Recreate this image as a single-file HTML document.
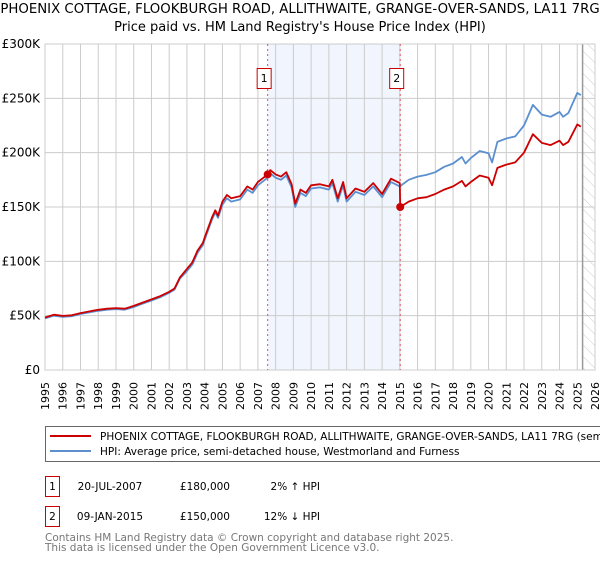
<!DOCTYPE html>
<html><head><meta charset="utf-8"><style>
body{margin:0;background:#fff;width:600px;height:560px;overflow:hidden;font-family:"Liberation Sans","DejaVu Sans",sans-serif}
svg text{font-family:"DejaVu Sans","Liberation Sans",sans-serif}
</style></head><body>
<svg id="chart" width="600" height="560" viewBox="0 0 600 560" xmlns="http://www.w3.org/2000/svg">
<defs><pattern id="hatch" patternUnits="userSpaceOnUse" width="8" height="8" patternTransform="rotate(-45)"><line x1="0" y1="0" x2="0" y2="8" stroke="#ccc" stroke-width="1"/></pattern></defs>
<text x="300" y="13" font-size="13.3" text-anchor="middle">PHOENIX COTTAGE, FLOOKBURGH ROAD, ALLITHWAITE, GRANGE-OVER-SANDS, LA11 7RG</text>
<text x="300" y="31" font-size="13" text-anchor="middle">Price paid vs. HM Land Registry's House Price Index (HPI)</text>
<g id="plot"></g>
<g>
<rect x="45.5" y="426.5" width="570" height="35" fill="none" stroke="#666"/>
<line x1="50" y1="436" x2="91" y2="436" stroke="#cc0000" stroke-width="2"/>
<text x="100" y="440" font-size="10.5">PHOENIX COTTAGE, FLOOKBURGH ROAD, ALLITHWAITE, GRANGE-OVER-SANDS, LA11 7RG (semi-detached house)</text>
<line x1="50" y1="451" x2="91" y2="451" stroke="#5b8fd0" stroke-width="2"/>
<text x="100" y="455" font-size="10.5">HPI: Average price, semi-detached house, Westmorland and Furness</text>
</g>
<g font-size="10.5">
<rect x="45.5" y="476.5" width="14" height="20" fill="none" stroke="#cc0000"/><text x="52.5" y="490" text-anchor="middle">1</text>
<text x="110" y="490" text-anchor="middle">20-JUL-2007</text><text x="230" y="490" text-anchor="end">£180,000</text><text x="320" y="490" text-anchor="end">2% ↑ HPI</text>
<rect x="45.5" y="506.5" width="14" height="20" fill="none" stroke="#cc0000"/><text x="52.5" y="520" text-anchor="middle">2</text>
<text x="110" y="520" text-anchor="middle">09-JAN-2015</text><text x="230" y="520" text-anchor="end">£150,000</text><text x="320" y="520" text-anchor="end">12% ↓ HPI</text>
</g>
<g font-size="10.5" fill="#777">
<text x="45" y="541">Contains HM Land Registry data © Crown copyright and database right 2025.</text>
<text x="45" y="551">This data is licensed under the Open Government Licence v3.0.</text>
</g>
</svg>
<script>
const hpiDates=[1995,1995.5,1996,1996.5,1997,1997.5,1998,1998.5,1999,1999.5,2000,2000.5,2001,2001.5,2002,2002.3,2002.6,2003,2003.3,2003.6,2003.9,2004,2004.4,2004.6,2004.75,2005,2005.25,2005.5,2006,2006.4,2006.7,2007,2007.55,2007.7,2008,2008.3,2008.6,2008.9,2009.1,2009.4,2009.7,2010,2010.5,2011,2011.2,2011.5,2011.8,2012,2012.5,2013,2013.5,2014,2014.5,2015,2015.5,2016,2016.5,2017,2017.5,2018,2018.5,2018.7,2019,2019.5,2020,2020.2,2020.5,2021,2021.5,2022,2022.5,2023,2023.5,2024,2024.2,2024.5,2025,2025.2];
const hpiValues=[47.5,50,49,49.5,51.5,53,54.5,55.5,56,55.5,58,61,64,67,71,74,84,91,97,108,115,120,138,145,140,152,158,155,157,166,163,170,177,181,177,175,179,168,150,163,160,167,168,166,172,155,170,155,164,161,169,159,173,169,175,178,179.5,182,187,190,196,190,195,201.5,199.5,191,210,213,215,225,244,235,233,237.5,233,236.5,255,253];
const paidDates=[1995,1995.5,1996,1996.5,1997,1997.5,1998,1998.5,1999,1999.5,2000,2000.5,2001,2001.5,2002,2002.3,2002.6,2003,2003.3,2003.6,2003.9,2004,2004.4,2004.6,2004.75,2005,2005.25,2005.5,2006,2006.4,2006.7,2007,2007.55,2007.7,2008,2008.3,2008.6,2008.9,2009.1,2009.4,2009.7,2010,2010.5,2011,2011.2,2011.5,2011.8,2012,2012.5,2013,2013.5,2014,2014.5,2015,2015.02,2015.5,2016,2016.5,2017,2017.5,2018,2018.5,2018.7,2019,2019.5,2020,2020.2,2020.5,2021,2021.5,2022,2022.5,2023,2023.5,2024,2024.2,2024.5,2025,2025.2];
const paidValues=[48.3,50.9,49.8,50.3,52.4,53.9,55.4,56.4,57,56.4,59,62,65,68,72,75,85,93,99,110,117,122,140,147,142,155,161,158,160,169,166,173,180,184,180,178,182,171,153,166,163,170,171,169,175,158,173,158,167,164,172,162,176,172,150,155,158,159,162,166,169,174,169,173,179,177,170,186,189,191,200,217,209,207,211,207,210,226,224];
const yTicks=[0,50,100,150,200,250,300];
const yTickLabels=["£0","£50K","£100K","£150K","£200K","£250K","£300K"];
const xYears=[1995,1996,1997,1998,1999,2000,2001,2002,2003,2004,2005,2006,2007,2008,2009,2010,2011,2012,2013,2014,2015,2016,2017,2018,2019,2020,2021,2022,2023,2024,2025,2026];
const saleDates=[2007.55,2015.02];
const saleValues=[180,150];
const saleLabels=["1","2"];

const NS="http://www.w3.org/2000/svg";
const X0=45,X1=595,Y0=370,Y1=44;
const xs=d=>X0+(d-1995)/31*(X1-X0);
const ys=v=>Y0-v/300*(Y0-Y1);
const plot=document.getElementById('plot');
function mk(tag,attrs,parent){const e=document.createElementNS(NS,tag);for(const k in attrs)e.setAttribute(k,attrs[k]);(parent||plot).appendChild(e);return e;}

const band=mk('rect',{x:xs(saleDates[0]),y:Y1,width:xs(saleDates[1])-xs(saleDates[0]),height:Y0-Y1,fill:'#eef2fc',opacity:0.8});


const hat=mk('rect',{x:xs(2025.3),y:Y1,width:X1-xs(2025.3),height:Y0-Y1,fill:'url(#hatch)'});



xYears.forEach(y=>{
  const l=mk('line',{x1:xs(y),x2:xs(y),y1:Y1,y2:Y0,stroke:'#ccc','stroke-width':1});
  
  
  const t=mk('text',{x:0,y:0,'font-size':11,'text-anchor':'end',transform:`translate(${xs(y)+4},${Y0+12}) rotate(-90)`});
  t.textContent=y;
  
  
});
yTicks.forEach((v,i)=>{
  const l=mk('line',{x1:X0,x2:X1,y1:ys(v),y2:ys(v),stroke:'#ccc','stroke-width':1});
  
  
  const t=mk('text',{x:X0-5,y:ys(v)+4,'font-size':12,'text-anchor':'end'});
  t.textContent=yTickLabels[i];
  
  
});
const fl=mk('line',{x1:xs(2025.3),x2:xs(2025.3),y1:Y1,y2:Y0,stroke:'#999','stroke-width':1.5});


const fr=mk('rect',{x:X0,y:Y1,width:X1-X0,height:Y0-Y1,fill:'none',stroke:'#ccc'});



saleDates.forEach((d,i)=>{
  const l=mk('line',{x1:xs(d),x2:xs(d),y1:Y1,y2:Y0,stroke:'#e05060','stroke-width':1,'stroke-dasharray':'2,3'});
  
  
});

function path(ds,vs,color,name){
  const p=mk('path',{d:ds.map((d,i)=>(i?'L':'M')+xs(d).toFixed(1)+','+ys(vs[i]).toFixed(1)).join(''),fill:'none',stroke:color,'stroke-width':1.8,'stroke-linejoin':'round'});
  
  
}
path(hpiDates,hpiValues,'#5b8fd0','hpi-line');
path(paidDates,paidValues,'#cc0000','price-paid-line');

saleDates.forEach((d,i)=>{
  const c=mk('circle',{cx:xs(d),cy:ys(saleValues[i]),r:4,fill:'#cc0000'});
  
  
  const r=mk('rect',{x:xs(d)-10.5,y:68.5,width:14,height:20,fill:'#fff',stroke:'#cc0000'});
  
  
  const t=mk('text',{x:xs(d)-3.5,y:82,'font-size':11,'text-anchor':'middle'});
  t.textContent=saleLabels[i];
  
  
});
</script>
</body></html>
